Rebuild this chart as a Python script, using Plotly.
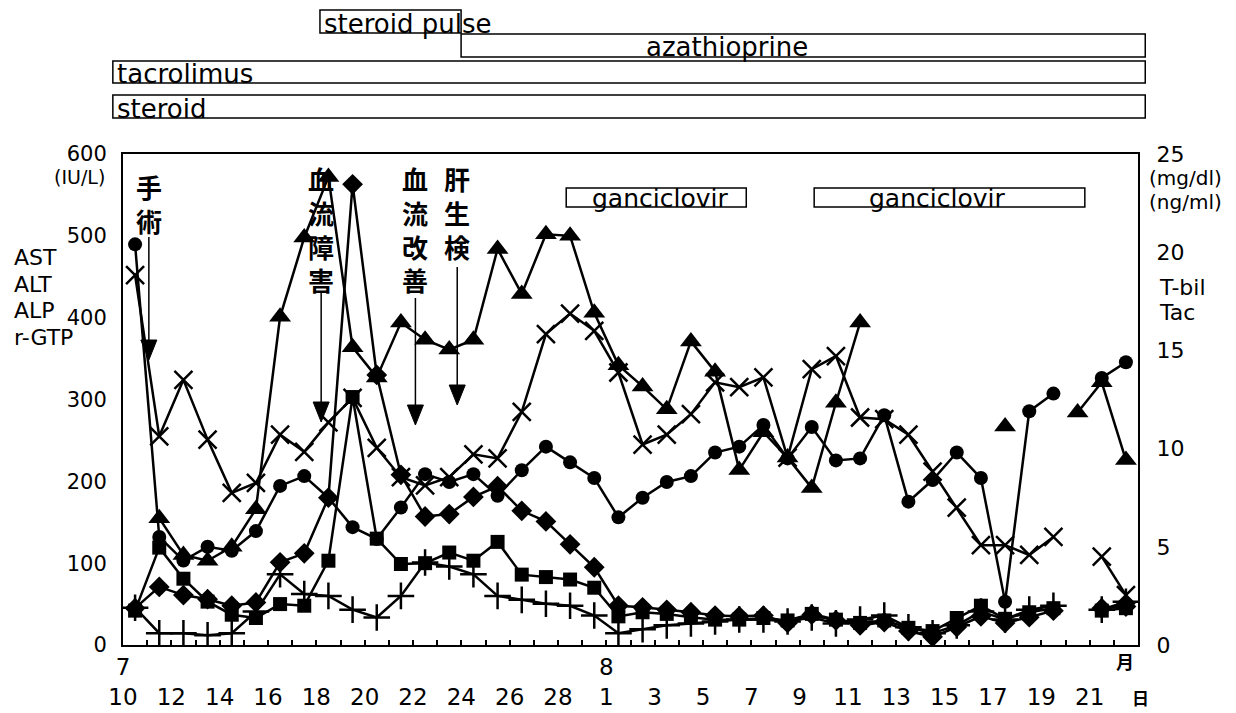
import plotly.graph_objects as go

# ---------------- data ----------------
# sample index (one category per measurement day)
sample = list(range(42))

# left axis (IU/L)
tri_alp = [None, 155, 110, 103, 120, 166, 401, 498, 572, 364, 327, 394, 373, 361, 373, 484, 429, 502, 500, 406,
           342, 316, 288, 371, 334, 214, 260, 229, 192, 296, 394, None, None, None, None, None, 267, None, None,
           284, 321, 226]
x_gtp = [452, 255, 324, 251, 186, 198, 257, 236, 272, 302, 241, 205, 195, 205, 233, 228, 285, 380, 405, 384,
         333, 245, 257, 282, 321, 315, 327, 229, 337, 353, 278, 276, 257, 212, 168, 122, 122, 110, 132, None,
         108, 61]
dia_alt = [45, 71, 61, 56, 48, 52, 101, 112, 180, 563, 330, 208, 157, 160, 181, 194, 164, 151, 123, 95,
           48, 46, 43, 40, 36, 35, 36, 27, 37, 30, 24, 28, 17, 10, 22, 35, 27, 34, 42, None, 45, 47]
sq_ast = [42, 119, 81, 53, 37, 33, 50, 48, 103, 303, 130, 99, 100, 113, 103, 126, 86, 83, 80, 70,
          35, 40, 38, 34, 31, 31, 33, 30, 38, 31, 27, 30, 21, 17, 33, 48, 32, 40, 45, None, 42, 45]
# right axis (ng/ml, mg/dl)
circ_tac = [20.4, 5.5, 4.3, 5.0, 4.8, 5.8, 8.1, 8.6, 7.5, 6.0, 5.4, 7.0, 8.7, 8.3, 8.7, 7.6, 8.9, 10.1, 9.3, 8.5,
            6.5, 7.5, 8.3, 8.6, 9.8, 10.1, 11.2, 9.5, 11.1, 9.4, 9.5, 11.7, 7.3, 8.4, 9.8, 8.5, 2.2, 11.9, 12.8,
            None, 13.6, 14.4]
plus_tbil = [1.9, 0.6, 0.6, 0.5, 0.6, 1.7, 3.6, 2.6, 2.5, 1.8, 1.4, 2.5, 4.2, 4.0, 3.6, 2.5, 2.3, 2.1, 2.0, 1.5,
             0.6, 0.8, 1.0, 1.1, 1.2, 1.3, 1.3, 1.2, 1.4, 1.1, 1.3, 1.5, 0.9, 0.6, 1.0, 1.7, 1.3, 1.8, 2.0,
             None, 1.8, 2.2]

# date tick labels (July 10..28, Aug 1..21)
day_labels = ["10", "12", "14", "16", "18", "20", "22", "24", "26", "28",
              "1", "3", "5", "7", "9", "11", "13", "15", "17", "19", "21"]
month_labels = {0: "7", 10: "8"}

left_ticks = [0, 100, 200, 300, 400, 500, 600]
right_ticks = [0, 5, 10, 15, 20, 25]

# drug periods (in sample units)
drug_names = ["steroid pulse", "azathioprine", "tacrolimus", "steroid"]
drug_start = [7.65, 13.49, -0.92, -0.92]
drug_end = [13.49, 41.8, 41.8, 41.8]
gan_start = [17.84, 28.1]
gan_end = [25.29, 39.3]

# events
event_labels = ["手術", "血流障害", "血流改善", "肝生検"]
event_x = [0.57, 7.7, 11.6, 13.33]

# ---------------- figure ----------------
W, H = 1236, 713
L, R, T, B = 123, 98, 154, 68
PW, PH = W - L - R, H - T - B
NCAT = 42


def py(y):
    return (H - B - y) / PH


def pxp(x):
    return (x - L) / PW


def xp(c):
    return (c + 0.5) / NCAT


fig = go.Figure()
lw = 2.5
common = dict(mode="lines+markers", line=dict(color="black", width=lw), connectgaps=False, showlegend=False)

fig.add_trace(go.Scatter(x=sample, y=tri_alp, name="ALP",
                         marker=dict(symbol="triangle-up", size=19, color="black"), **common))
fig.add_trace(go.Scatter(x=sample, y=x_gtp, name="r-GTP",
                         marker=dict(symbol="x-thin", size=18, color="black",
                                     line=dict(color="black", width=2.5)), **common))
fig.add_trace(go.Scatter(x=sample, y=dia_alt, name="ALT",
                         marker=dict(symbol="diamond", size=16, color="black"), **common))
fig.add_trace(go.Scatter(x=sample, y=sq_ast, name="AST",
                         marker=dict(symbol="square", size=14, color="black"), **common))
fig.add_trace(go.Scatter(x=sample, y=circ_tac, name="Tac", yaxis="y2",
                         marker=dict(symbol="circle", size=14, color="black"), **common))
fig.add_trace(go.Scatter(x=sample, y=plus_tbil, name="T-bil", yaxis="y2",
                         marker=dict(symbol="cross-thin", size=19, color="black",
                                     line=dict(color="black", width=2.5)), **common))

# x ticks at category boundaries, labels on every second boundary
tickvals = [i - 0.5 for i in range(NCAT)]
ticktext = [""] * NCAT
for k, lab in enumerate(day_labels):
    top = month_labels.get(k, "")
    ticktext[2 * k] = top + "<br>" + lab

fig.update_layout(
    width=W, height=H,
    margin=dict(l=L, r=R, t=T, b=B, autoexpand=False),
    paper_bgcolor="white", plot_bgcolor="white",
    font=dict(family="DejaVu Sans", color="black"),
    xaxis=dict(range=[-0.5, NCAT - 0.5], tickvals=tickvals, ticktext=ticktext, ticks="inside", ticklen=5,
               tickwidth=1.5, tickcolor="black", showline=True, linewidth=2, linecolor="black",
               mirror=True, showgrid=False, zeroline=False, tickfont=dict(size=23), automargin=False),
    yaxis=dict(range=[0, 600], tickvals=left_ticks, showline=True, linewidth=2, linecolor="black",
               showgrid=False, zeroline=False, ticks="", tickfont=dict(size=21), ticklabelstandoff=10,
               automargin=False),
    yaxis2=dict(range=[0, 25], tickvals=right_ticks, overlaying="y", side="right", showline=True,
                linewidth=2, linecolor="black", showgrid=False, zeroline=False, ticks="",
                tickfont=dict(size=22), ticklabelstandoff=12, automargin=False),
)

ann = []
shapes = []

# drug bars above the plot
rows = [(10, 33), (34, 57), (61, 83), (95, 118)]
txt_anchor = [("left", 7.72), ("center", 24.5), ("left", -0.85), ("left", -0.85)]
for name, s, e, (y0, y1), (xa, tx) in zip(drug_names, drug_start, drug_end, rows, txt_anchor):
    shapes.append(dict(type="rect", xref="paper", yref="paper", x0=xp(s), x1=xp(e), y0=py(y1), y1=py(y0),
                       line=dict(color="black", width=1.5), fillcolor="white", layer="below"))
    ann.append(dict(text=name, xref="paper", yref="paper", x=xp(tx), y=py((y0 + y1) / 2 + 2), xanchor=xa,
                    yanchor="middle", showarrow=False, font=dict(size=26, family="DejaVu Sans")))

# ganciclovir bars
for s, e, off in zip(gan_start, gan_end, [1.0, 2.2]):
    shapes.append(dict(type="rect", xref="paper", yref="paper", x0=xp(s), x1=xp(e), y0=py(207), y1=py(188),
                       line=dict(color="black", width=1.5), fillcolor="white", layer="above"))
    ann.append(dict(text="ganciclovir", xref="paper", yref="paper", x=xp(s + off), y=py(198), xanchor="left",
                    yanchor="middle", showarrow=False, font=dict(size=25, family="DejaVu Sans")))

# events: vertical Japanese text and arrows
ev_text_top = [166, 158, 158, 158]
ev_arrow = [(237, 360), (293, 422), (298, 425), (267, 405)]
hw = 8 / (PW / NCAT)
for lab, ex, tt, (a0, a1) in zip(event_labels, event_x, ev_text_top, ev_arrow):
    ann.append(dict(text="<b>" + "<br>".join(list(lab)) + "</b>", xref="paper", yref="paper", x=xp(ex),
                    y=py(tt), xanchor="center", yanchor="top", showarrow=False,
                    font=dict(size=26, family="Noto Sans CJK JP")))
    shapes.append(dict(type="line", xref="paper", yref="paper", x0=xp(ex), x1=xp(ex), y0=py(a0),
                       y1=py(a1 - 15), line=dict(color="black", width=1.5)))
    shapes.append(dict(type="path", xref="paper", yref="paper",
                       path=f"M {xp(ex - hw)},{py(a1 - 20)} L {xp(ex + hw)},{py(a1 - 20)} L {xp(ex)},{py(a1)} Z",
                       fillcolor="black", line=dict(color="black", width=1)))

# axis side labels
for t, y in zip(["AST", "ALT", "ALP", "r-GTP"], [257, 284, 310, 337]):
    ann.append(dict(text=t, xref="paper", yref="paper", x=pxp(12), y=py(y), xanchor="left", yanchor="middle",
                    showarrow=False, font=dict(size=22)))
ann.append(dict(text="(IU/L)", xref="paper", yref="paper", x=pxp(107), y=py(177), xanchor="right",
                yanchor="middle", showarrow=False, font=dict(size=19)))
for t, y in zip(["(mg/dl)", "(ng/ml)"], [178, 202]):
    ann.append(dict(text=t, xref="paper", yref="paper", x=pxp(1147), y=py(y), xanchor="left",
                    yanchor="middle", showarrow=False, font=dict(size=20)))
for t, y in zip(["T-bil", "Tac"], [287, 312]):
    ann.append(dict(text=t, xref="paper", yref="paper", x=pxp(1157), y=py(y), xanchor="left",
                    yanchor="middle", showarrow=False, font=dict(size=22)))
ann.append(dict(text="<b>月</b>", xref="paper", yref="paper", x=pxp(1125), y=py(661), xanchor="center",
                yanchor="middle", showarrow=False, font=dict(size=18, family="Noto Sans CJK JP")))
ann.append(dict(text="<b>日</b>", xref="paper", yref="paper", x=pxp(1140), y=py(697), xanchor="center",
                yanchor="middle", showarrow=False, font=dict(size=17, family="Noto Sans CJK JP")))

fig.update_layout(annotations=ann, shapes=shapes)
fig.write_html("out.html", config={"displayModeBar": False},
               post_script="document.body.style.margin='0';document.body.style.overflow='hidden';")
